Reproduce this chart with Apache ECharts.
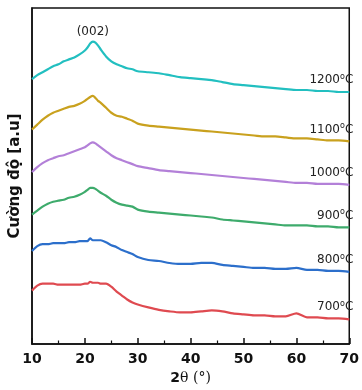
<!DOCTYPE html>
<html>
<head>
<meta charset="utf-8">
<script src="https://cdn.jsdelivr.net/npm/echarts@6/dist/echarts.min.js"></script>
<style>
  html, body { margin: 0; padding: 0; background: #fff; }
  #chart { width: 362px; height: 390px; }
</style>
</head>
<body>
<div id="chart"></div>
<script>
// 2θ sampling positions (degrees)
const twoTheta = [10, 11, 12, 13, 14, 15, 16, 17, 18, 19, 20, 20.5, 21, 21.5, 22, 22.5, 23, 24, 25, 26,
  27, 28, 29, 30, 32, 34, 36, 38, 40, 42, 44, 46, 48, 50, 52, 54, 56, 58, 60, 62, 64, 66, 68, 70];

// Stacked XRD patterns (intensity in a.u., vertically offset per temperature)
const i1200 = [268, 272, 275, 278, 281, 283, 286, 288, 290, 293, 297, 300, 304, 306, 305, 302, 298, 291, 286, 283,
  281, 279, 278, 276, 275, 274, 272, 270, 269, 268, 267, 265, 263, 262, 261, 260, 259, 258, 257, 257, 256, 256, 255, 255];
const i1100 = [217, 222, 227, 231, 234, 236, 238, 240, 241, 243, 246, 248, 250, 251, 249, 246, 244, 239, 234, 231,
  230, 228, 226, 223, 221, 220, 219, 218, 217, 216, 215, 214, 213, 212, 211, 210, 210, 209, 208, 208, 207, 206, 206, 205];
const i1000 = [174, 179, 183, 186, 188, 190, 191, 193, 195, 197, 199, 201, 203, 204, 203, 201, 199, 195, 191, 188,
  186, 184, 182, 180, 178, 176, 175, 174, 173, 172, 171, 170, 169, 168, 167, 166, 165, 164, 163, 163, 162, 162, 162, 161];
const i900 = [131, 135, 139, 142, 144, 145, 146, 148, 149, 151, 154, 156, 158, 158, 157, 155, 153, 150, 146, 143,
  141, 140, 139, 136, 134, 133, 132, 131, 130, 129, 128, 126, 125, 124, 123, 122, 121, 120, 120, 120, 119, 119, 118, 118];
const i800 = [94, 99, 101, 101, 102, 102, 102, 103, 103, 104, 104, 104, 107, 105, 105, 105, 105, 103, 100, 98,
  95, 93, 91, 88, 85, 84, 82, 81, 81, 82, 82, 80, 79, 78, 77, 77, 76, 76, 77, 75, 75, 74, 74, 73];
const i700 = [54, 59, 61, 61, 61, 60, 60, 60, 60, 60, 61, 61, 63, 62, 62, 62, 61, 61, 58, 53,
  49, 45, 42, 40, 37, 34.5, 33, 32, 32, 33, 34, 33, 31, 30, 29, 29, 28, 28, 31, 27, 27, 26, 26, 25];

const xTicks = [10, 20, 30, 40, 50, 60, 70];

const curves = [
  { temp: '1200', values: i1200, color: '#22bfc0' },
  { temp: '1100', values: i1100, color: '#c9a11e' },
  { temp: '1000', values: i1000, color: '#b380d8' },
  { temp: '900',  values: i900,  color: '#3eab6c' },
  { temp: '800',  values: i800,  color: '#2c6fcb' },
  { temp: '700',  values: i700,  color: '#df4a50' }
];

const peakLabel = '(002)';
const peakPos = [21.5, 306];

const chart = echarts.init(document.getElementById('chart'), null, { renderer: 'canvas' });

const series = curves.map(function (c, idx) {
  const s = {
    type: 'line',
    name: c.temp,
    data: twoTheta.map(function (x, i) { return [x, c.values[i]]; }),
    showSymbol: false,
    smooth: 0.25,
    lineStyle: { color: c.color, width: 2.2 },
    itemStyle: { color: c.color },
    animation: false,
    endLabel: {
      show: true,
      formatter: c.temp + '{sup|o}C',
      align: 'right',
      verticalAlign: 'middle',
      offset: [-4, -12],
      fontFamily: 'DejaVu Sans',
      fontSize: 12,
      color: '#222',
      rich: {
        sup: { fontSize: 8, fontFamily: 'DejaVu Sans', color: '#222', verticalAlign: 'top', lineHeight: 14, padding: [0, 0, 6, 0] }
      }
    }
  };
  if (idx === 0) {
    s.markPoint = {
      symbol: 'circle',
      symbolSize: 0,
      silent: true,
      data: [{ coord: peakPos, value: peakLabel }],
      label: {
        show: true,
        position: 'inside',
        offset: [0, -10],
        formatter: peakLabel,
        fontFamily: 'DejaVu Sans',
        fontSize: 12,
        color: '#222'
      }
    };
  }
  return s;
});

chart.setOption({
  backgroundColor: '#fff',
  animation: false,
  grid: {
    left: 29, right: 11, top: 8, bottom: 43,
    show: true, borderColor: '#111', borderWidth: 1.5, backgroundColor: 'transparent'
  },
  xAxis: {
    type: 'value',
    min: 10, max: 70, interval: 10,
    name: '{a|2}{b|θ (°)}',
    nameLocation: 'middle',
    nameGap: 27,
    nameTextStyle: {
      rich: {
        a: { fontFamily: 'DejaVu Sans', fontWeight: 'bold', fontSize: 14, color: '#111' },
        b: { fontFamily: 'DejaVu Serif', fontSize: 14, color: '#111' }
      }
    },
    axisLine: { show: true, lineStyle: { color: '#111', width: 1.5 } },
    axisTick: { show: true, inside: true, length: 6, lineStyle: { color: '#111', width: 1.5 } },
    minorTick: { show: true, splitNumber: 2, length: 3.5, lineStyle: { color: '#111', width: 1.2 } },
    splitLine: { show: false },
    axisLabel: {
      margin: 8,
      fontFamily: 'DejaVu Sans',
      fontWeight: 'bold',
      fontSize: 14,
      color: '#111',
      formatter: function (v) { return xTicks.indexOf(v) >= 0 ? String(v) : ''; }
    }
  },
  yAxis: {
    type: 'value',
    min: 0, max: 340,
    name: 'Cường độ [a.u]',
    nameLocation: 'middle',
    nameGap: 9,
    nameTextStyle: { fontFamily: 'DejaVu Sans', fontWeight: 'bold', fontSize: 15, color: '#111' },
    axisLine: { show: true, lineStyle: { color: '#111', width: 1.5 } },
    axisTick: { show: false },
    axisLabel: { show: false },
    splitLine: { show: false }
  },
  series: series
});
</script>
</body>
</html>
